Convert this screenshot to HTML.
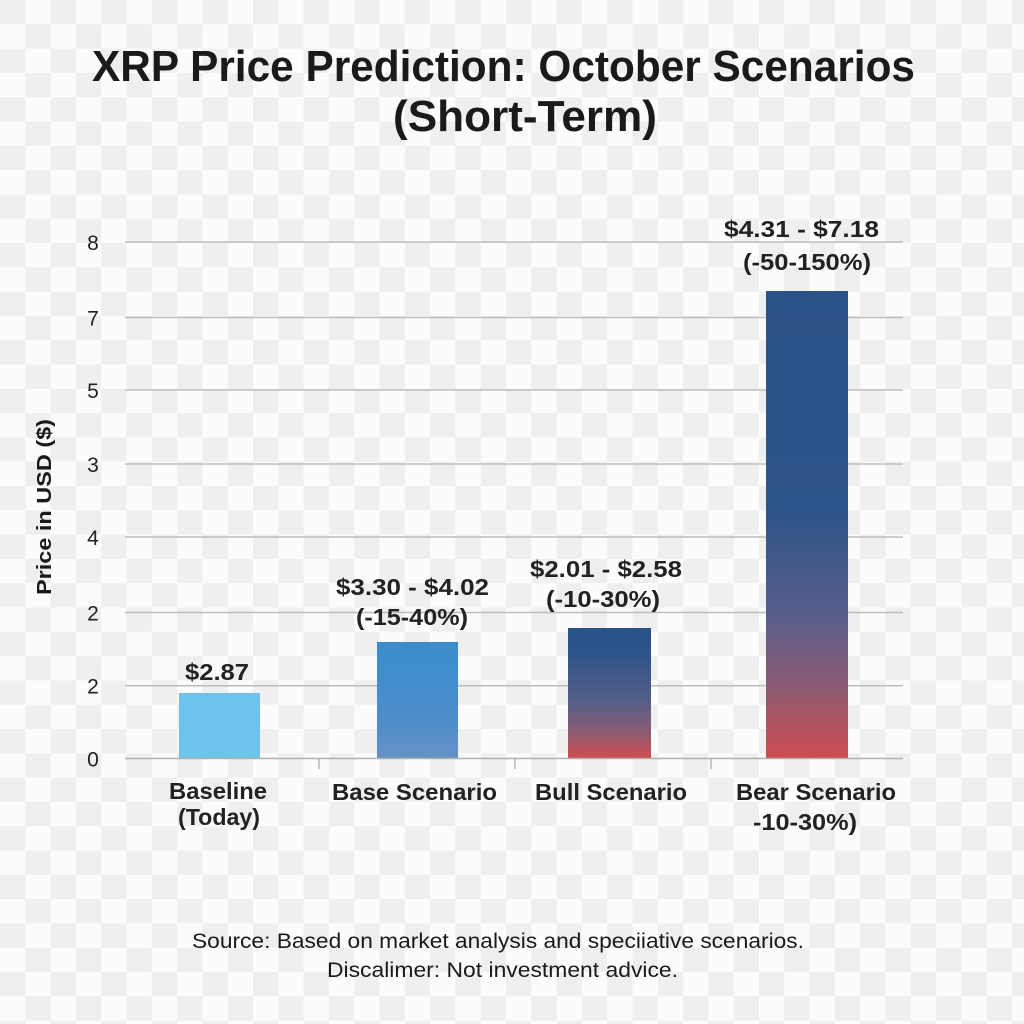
<!DOCTYPE html>
<html>
<head>
<meta charset="utf-8">
<style>
html,body{margin:0;padding:0;background:#fcfcfc;}
svg{display:block;}
text{font-family:"Liberation Sans",Arial,sans-serif;}
</style>
</head>
<body>
<svg width="1024" height="1024" viewBox="0 0 1024 1024" xmlns="http://www.w3.org/2000/svg">
<defs>
  <pattern id="ck" width="50.6" height="48.6" patternUnits="userSpaceOnUse">
    <rect width="50.6" height="48.6" fill="#fcfcfc"/>
    <rect x="0" y="0" width="25.3" height="24.3" fill="#efefef"/>
    <rect x="25.3" y="24.3" width="25.3" height="24.3" fill="#efefef"/>
  </pattern>
  <linearGradient id="gBase" x1="0" y1="0" x2="0" y2="1">
    <stop offset="0" stop-color="#3a8ccd"/>
    <stop offset="0.6" stop-color="#4a8ecb"/>
    <stop offset="1" stop-color="#6590c6"/>
  </linearGradient>
  <linearGradient id="gBull" x1="0" y1="0" x2="0" y2="1">
    <stop offset="0" stop-color="#2b5286"/>
    <stop offset="0.2" stop-color="#2d5488"/>
    <stop offset="0.55" stop-color="#535e8a"/>
    <stop offset="0.8" stop-color="#8c5b72"/>
    <stop offset="1" stop-color="#d24c50"/>
  </linearGradient>
  <linearGradient id="gBear" x1="0" y1="0" x2="0" y2="1">
    <stop offset="0" stop-color="#2b5286"/>
    <stop offset="0.48" stop-color="#2e5589"/>
    <stop offset="0.7" stop-color="#5a5f8a"/>
    <stop offset="0.85" stop-color="#8d5a70"/>
    <stop offset="1" stop-color="#d04c52"/>
  </linearGradient>
</defs>

<rect width="1024" height="1024" fill="url(#ck)"/>

<!-- Title -->
<text x="503.5" y="81" font-size="44" font-weight="bold" fill="#1a1a1a" text-anchor="middle" textLength="823" lengthAdjust="spacingAndGlyphs">XRP Price Prediction: October Scenarios</text>
<text x="525" y="131" font-size="44" font-weight="bold" fill="#1a1a1a" text-anchor="middle" textLength="264" lengthAdjust="spacingAndGlyphs">(Short-Term)</text>

<!-- Grid -->
<g stroke="#bdbdbd" stroke-width="1.5">
  <line x1="125" y1="242" x2="903" y2="242"/>
  <line x1="125" y1="317.5" x2="903" y2="317.5"/>
  <line x1="125" y1="390" x2="903" y2="390"/>
  <line x1="125" y1="464" x2="903" y2="464"/>
  <line x1="125" y1="537" x2="903" y2="537"/>
  <line x1="125" y1="612.5" x2="903" y2="612.5"/>
  <line x1="125" y1="685.7" x2="903" y2="685.7"/>
</g>

<!-- Y tick labels -->
<g font-size="21" fill="#222" text-anchor="middle">
  <text x="93" y="250">8</text>
  <text x="93" y="325.5">7</text>
  <text x="93" y="398">5</text>
  <text x="93" y="472">3</text>
  <text x="93" y="545">4</text>
  <text x="93" y="620.5">2</text>
  <text x="93" y="693.7">2</text>
  <text x="93" y="766.5">0</text>
</g>

<!-- Y axis title -->
<text transform="translate(51,507) rotate(-90)" font-size="20" font-weight="bold" fill="#1a1a1a" text-anchor="middle" textLength="176" lengthAdjust="spacingAndGlyphs">Price in USD ($)</text>

<!-- Bars -->
<rect x="179" y="693" width="81" height="65.5" fill="#6cc4ec"/>
<rect x="377" y="642" width="81" height="116.5" fill="url(#gBase)"/>
<rect x="568" y="628" width="83" height="130.5" fill="url(#gBull)"/>
<rect x="766" y="291" width="82" height="467.5" fill="url(#gBear)"/>

<!-- Baseline and ticks -->
<line x1="125" y1="758.5" x2="903" y2="758.5" stroke="#b0b0b0" stroke-width="1.5"/>
<g stroke="#a8a8a8" stroke-width="1.2">
  <line x1="319" y1="759" x2="319" y2="769"/>
  <line x1="515" y1="759" x2="515" y2="769"/>
  <line x1="711" y1="759" x2="711" y2="769"/>
</g>

<!-- Bar value labels -->
<g font-size="23" font-weight="bold" fill="#222" text-anchor="middle">
  <text x="217" y="680" textLength="64" lengthAdjust="spacingAndGlyphs">$2.87</text>
  <text x="412.5" y="595" textLength="153" lengthAdjust="spacingAndGlyphs">$3.30 - $4.02</text>
  <text x="412" y="625" textLength="112" lengthAdjust="spacingAndGlyphs">(-15-40%)</text>
  <text x="606" y="577" textLength="152" lengthAdjust="spacingAndGlyphs">$2.01 - $2.58</text>
  <text x="603" y="607" textLength="114" lengthAdjust="spacingAndGlyphs">(-10-30%)</text>
  <text x="801.5" y="237" textLength="155" lengthAdjust="spacingAndGlyphs">$4.31 - $7.18</text>
  <text x="807" y="270" textLength="128" lengthAdjust="spacingAndGlyphs">(-50-150%)</text>
</g>

<!-- X category labels -->
<g font-size="23" font-weight="bold" fill="#222" text-anchor="middle">
  <text x="218" y="799" textLength="98" lengthAdjust="spacingAndGlyphs">Baseline</text>
  <text x="219" y="825" textLength="82" lengthAdjust="spacingAndGlyphs">(Today)</text>
  <text x="414.5" y="800" textLength="165" lengthAdjust="spacingAndGlyphs">Base Scenario</text>
  <text x="611" y="800" textLength="152" lengthAdjust="spacingAndGlyphs">Bull Scenario</text>
  <text x="816" y="800" textLength="160" lengthAdjust="spacingAndGlyphs">Bear Scenario</text>
  <text x="805" y="830" textLength="104" lengthAdjust="spacingAndGlyphs">-10-30%)</text>
</g>

<!-- Footer -->
<g font-size="21" fill="#1a1a1a" text-anchor="middle">
  <text x="498" y="948" textLength="612" lengthAdjust="spacingAndGlyphs">Source: Based on market analysis and speciiative scenarios.</text>
  <text x="502.5" y="977" textLength="351" lengthAdjust="spacingAndGlyphs">Discalimer: Not investment advice.</text>
</g>
</svg>
</body>
</html>
